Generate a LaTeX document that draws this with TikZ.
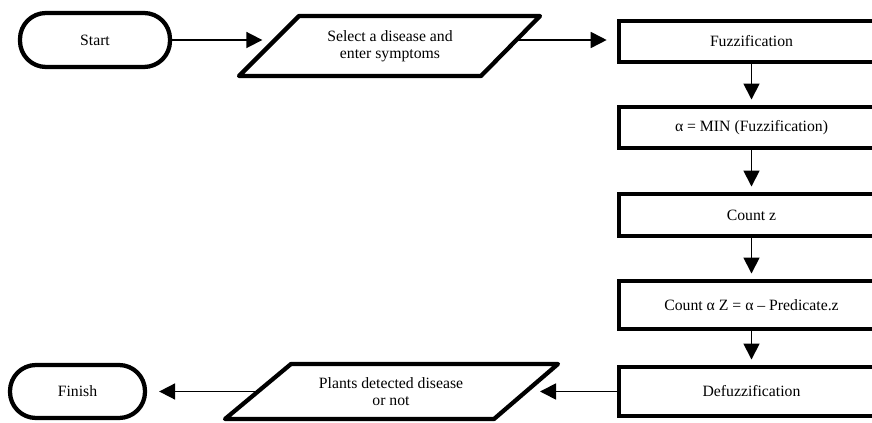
\documentclass[tikz,border=0pt]{standalone}
\usepackage{fontspec}
\setmainfont{Liberation Serif}
\usetikzlibrary{arrows.meta,calc}
\begin{document}
\begin{tikzpicture}[x=0.75pt,y=-0.75pt,
  every node/.style={font=\fontsize{11.8}{13}\selectfont, align=center, inner sep=0pt},
  box/.style={draw, line width=3.2pt, rectangle, minimum width=199pt},
  term/.style={draw, line width=3.2pt, rounded corners=19.5pt},
  io/.style={draw, line width=3.2pt, line join=round},
  arr/.style={line width=1.3pt, -{Triangle[length=12pt,width=12pt]}}]
\useasboundingbox (0,0) rectangle (872,423);
\clip (0,0) rectangle (872,423);

% terminals
\node[term, minimum width=112.5pt, minimum height=40.5pt] (start) at (95,40) {Start};
\node[term, minimum width=101.25pt, minimum height=39.75pt] (finish) at (77.5,391.5) {Finish};

% process boxes
\node[box, minimum height=30.75pt] (b1) at (751.5,41.5) {Fuzzification};
\node[box, minimum height=30.75pt] (b2) at (751.5,127.5) {α = MIN (Fuzzification)};
\node[box, minimum height=31.5pt] (b3) at (751.5,215) {Count z};
\node[box, minimum height=36pt] (b4) at (751.5,305) {Count α Z = α – Predicate.z};
\node[box, minimum height=36.75pt] (b5) at (751.5,391.5) {Defuzzification};

% input/output parallelograms
\coordinate (p1tl) at (299,16);
\coordinate (p1tr) at (540,16);
\coordinate (p1br) at (481,76);
\coordinate (p1bl) at (239,76);
\draw[io] (p1tl) -- (p1tr) -- (p1br) -- (p1bl) -- cycle;
\node (p1) at (390,46) {Select a disease and\\enter symptoms};
\coordinate (p1in) at ($(p1bl)!0.6!(p1tl)$);
\coordinate (p1out) at ($(p1br)!0.6!(p1tr)$);

\coordinate (p2tl) at (291,364);
\coordinate (p2tr) at (558,364);
\coordinate (p2br) at (494,419);
\coordinate (p2bl) at (225,419);
\draw[io] (p2tl) -- (p2tr) -- (p2br) -- (p2bl) -- cycle;
\node (p2) at (391,391.5) {Plants detected disease\\or not};
\coordinate (p2in) at ($(p2br)!0.5!(p2tr)$);
\coordinate (p2out) at ($(p2bl)!0.5!(p2tl)$);

% connectors
\draw[arr, shorten >=9.5pt] (start.east) -- (p1in);
\draw[arr, shorten >=7.5pt] (p1out) -- (p1out -| b1.west);
\draw[arr, shorten >=4pt] (b1.south) -- (b2.north);
\draw[arr, shorten >=4pt] (b2.south) -- (b3.north);
\draw[arr, shorten >=4pt] (b3.south) -- (b4.north);
\draw[arr, shorten >=4pt] (b4.south) -- (b5.north);
\draw[arr, shorten >=10.5pt] (b5.west) -- (p2in);
\draw[arr, shorten >=9pt] (p2out) -- (finish.east);
\end{tikzpicture}
\end{document}
